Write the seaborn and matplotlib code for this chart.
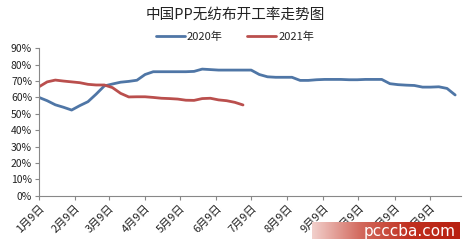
import numpy as np
import pandas as pd
import matplotlib
matplotlib.use("Agg")
import matplotlib.pyplot as plt
from matplotlib.colors import LinearSegmentedColormap
import seaborn as sns

title = "中国PP无纺布开工率走势图"
series_names = ["2020年", "2021年"]
start_date = "2020-01-09"

vals_2020 = [60.0, 58.0, 55.5, 54.0, 52.3, 55.0, 57.4, 62.0, 67.0, 68.2, 69.3, 69.8, 70.5,
             74.0, 75.7, 75.7, 75.7, 75.7, 75.7, 75.9, 77.3, 77.0, 76.7, 76.7, 76.7, 76.7,
             76.7, 74.0, 72.6, 72.3, 72.3, 72.3, 70.4, 70.4, 70.8, 71.0, 71.0, 71.0, 70.8,
             70.8, 71.0, 71.0, 71.0, 68.4, 67.8, 67.5, 67.3, 66.3, 66.3, 66.5, 65.5, 61.5]
vals_2021 = [66.5, 69.5, 70.6, 70.0, 69.5, 69.0, 68.0, 67.6, 67.6, 66.0, 62.5, 60.3, 60.4,
             60.4, 60.0, 59.5, 59.3, 59.0, 58.3, 58.2, 59.3, 59.5, 58.5, 58.0, 57.0, 55.4]

y_ticks = [0, 10, 20, 30, 40, 50, 60, 70, 80, 90]

dates_2020 = pd.date_range(start_date, periods=len(vals_2020), freq="7D")
dates_2021 = pd.date_range(start_date, periods=len(vals_2021), freq="7D")
df = pd.concat([
    pd.DataFrame({"date": dates_2020, "rate": np.array(vals_2020) / 100, "series": series_names[0]}),
    pd.DataFrame({"date": dates_2021, "rate": np.array(vals_2021) / 100, "series": series_names[1]}),
])

sns.set_style("white")
plt.rcParams["font.family"] = ["Noto Sans CJK SC", "DejaVu Sans"]

fig = plt.figure(figsize=(4.7, 2.5), dpi=100)
ax = fig.add_axes([39 / 470, 1 - 195.7 / 250, (461 - 39) / 470, (195.7 - 48.3) / 250])

palette = {series_names[0]: "#4F76A6", series_names[1]: "#BA4F4D"}
sns.lineplot(data=df, x="date", y="rate", hue="series", palette=palette,
             linewidth=2.0, ax=ax, legend=True)

ax.set_xlim(pd.Timestamp(start_date), pd.Timestamp(start_date) + pd.Timedelta(days=362))
ax.set_ylim(0, 0.9)
ax.set_yticks([t / 100 for t in y_ticks])
ax.set_yticklabels([f"{t}%" for t in y_ticks], fontsize=7.5, color="#222222")

month_ticks = pd.date_range("2020-01-09", periods=12, freq=pd.DateOffset(months=1))
ax.set_xticks(month_ticks)
ax.set_xticklabels([f"{d.month}月{d.day}日" for d in month_ticks], fontsize=8,
                   rotation=45, ha="right", rotation_mode="anchor", color="#222222")
ax.set_xlabel("")
ax.set_ylabel("")

for s in ["top", "right"]:
    ax.spines[s].set_visible(False)
for s in ["left", "bottom"]:
    ax.spines[s].set_color("#888888")
    ax.spines[s].set_linewidth(0.8)
ax.tick_params(axis="both", which="major", length=3, width=0.8, color="#888888",
               direction="out", pad=2)
ax.tick_params(axis="y", left=True)
ax.tick_params(axis="x", bottom=True)

handles, labels = ax.get_legend_handles_labels()
ax.get_legend().remove()
fig.legend(handles, labels, loc="center", bbox_to_anchor=(0.5, 1 - 37 / 250), ncol=2,
           frameon=False, fontsize=8, handlelength=2.6, columnspacing=2.2,
           handletextpad=0.2)

fig.text(0.5, 1 - 15 / 250, title, ha="center", va="center", fontsize=10.5, color="#222222")

# watermark banner
wax = fig.add_axes([312 / 470, 1 - 239 / 250, (460 - 312) / 470, (239 - 222) / 250])
grad = np.linspace(0, 1, 256).reshape(1, -1)
cmap = LinearSegmentedColormap.from_list("wm", ["#f2d0cc", "#d2685c", "#c0301f", "#b82010"])
wax.imshow(grad, aspect="auto", cmap=cmap, extent=[0, 1, 0, 1])
wax.set_axis_off()
wax.text(0.66, 0.45, "pcccba.com", ha="center", va="center", color="white",
         fontsize=11, family="DejaVu Sans", transform=wax.transAxes)

fig.savefig("out.png", dpi=100)
